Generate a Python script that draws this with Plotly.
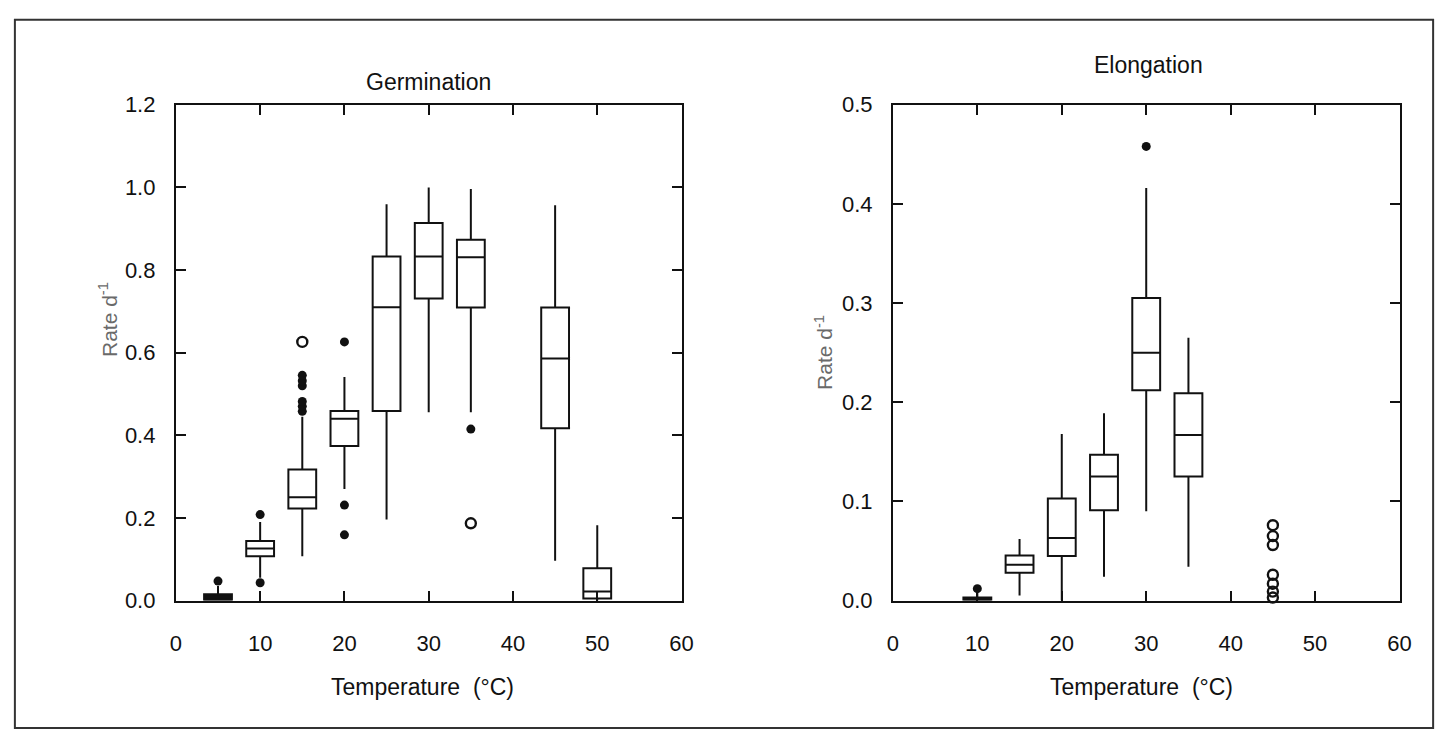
import plotly.graph_objects as go

W, H = 1455, 744

# ---- Germination (rate per day) box statistics by temperature (°C)
germ_temp = [5, 10, 15, 20, 25, 30, 35, 45, 50]
germ_q1 = [0.0, 0.107, 0.223, 0.374, 0.459, 0.731, 0.709, 0.417, 0.005]
germ_median = [0.0, 0.126, 0.250, 0.440, 0.710, 0.833, 0.831, 0.586, 0.022]
germ_q3 = [0.015, 0.144, 0.317, 0.459, 0.833, 0.914, 0.873, 0.709, 0.078]
germ_low = [0.0, 0.055, 0.107, 0.270, 0.196, 0.456, 0.456, 0.096, 0.0]
germ_high = [0.035, 0.190, 0.445, 0.541, 0.959, 1.0, 0.996, 0.957, 0.182]

# outliers: filled = extreme, open = far out
germ_out_x = [5, 10, 10, 15, 15, 15, 15, 15, 15, 20, 20, 20, 35]
germ_out_y = [0.047, 0.208, 0.043, 0.458, 0.470, 0.482, 0.520, 0.532, 0.545,
              0.626, 0.231, 0.159, 0.415]
germ_far_x = [15, 35]
germ_far_y = [0.626, 0.187]

# ---- Elongation (rate per day) box statistics by temperature (°C)
elong_temp = [10, 15, 20, 25, 30, 35]
elong_q1 = [0.0, 0.028, 0.045, 0.091, 0.212, 0.125]
elong_median = [0.0, 0.036, 0.063, 0.125, 0.250, 0.167]
elong_q3 = [0.003, 0.0455, 0.103, 0.147, 0.305, 0.209]
elong_low = [0.0, 0.005, 0.0, 0.024, 0.090, 0.034]
elong_high = [0.008, 0.062, 0.168, 0.189, 0.416, 0.265]

elong_out_x = [10, 30]
elong_out_y = [0.012, 0.458]
elong_far_x = [45, 45, 45, 45, 45, 45, 45]
elong_far_y = [0.076, 0.065, 0.056, 0.026, 0.017, 0.009, 0.003]

x_ticks = [0, 10, 20, 30, 40, 50, 60]
germ_ticks = [0.0, 0.2, 0.4, 0.6, 0.8, 1.0, 1.2]
elong_ticks = [0.0, 0.1, 0.2, 0.3, 0.4, 0.5]

FONT = "Liberation Sans, Arial, sans-serif"
INK = "#111111"
FLAT = 0.02  # boxes lying on the baseline below this are printed as solid bars


def px_x(p):
    return p / W


def px_y(p):
    return 1 - p / H


def box_trace(idx, x, q1, med, q3, lo, hi, xa, ya, fill):
    return go.Box(
        x=[x[i] for i in idx], q1=[q1[i] for i in idx], median=[med[i] for i in idx],
        q3=[q3[i] for i in idx], lowerfence=[lo[i] for i in idx],
        upperfence=[hi[i] for i in idx],
        width=3.3, whiskerwidth=0, boxpoints=False,
        line=dict(color=INK, width=2), fillcolor=fill,
        xaxis=xa, yaxis=ya, showlegend=False, hoverinfo="skip",
    )


def add_boxes(fig, x, q1, med, q3, lo, hi, xa, ya):
    flat = [i for i in range(len(x)) if q3[i] < FLAT]
    normal = [i for i in range(len(x)) if q3[i] >= FLAT]
    fig.add_trace(box_trace(normal, x, q1, med, q3, lo, hi, xa, ya, "white"))
    fig.add_trace(box_trace(flat, x, q1, med, q3, lo, hi, xa, ya, INK))


def dots(x, y, xa, ya, open_=False):
    if open_:
        marker = dict(symbol="circle-open", size=10, color=INK, line=dict(width=2.4, color=INK))
    else:
        marker = dict(symbol="circle", size=9, color=INK)
    return go.Scatter(x=x, y=y, mode="markers", marker=marker,
                      xaxis=xa, yaxis=ya, showlegend=False, hoverinfo="skip", cliponaxis=False)


fig = go.Figure()
add_boxes(fig, germ_temp, germ_q1, germ_median, germ_q3, germ_low, germ_high, "x", "y")
fig.add_trace(dots(germ_out_x, germ_out_y, "x", "y"))
fig.add_trace(dots(germ_far_x, germ_far_y, "x", "y", open_=True))
add_boxes(fig, elong_temp, elong_q1, elong_median, elong_q3, elong_low, elong_high, "x2", "y2")
fig.add_trace(dots(elong_out_x, elong_out_y, "x2", "y2"))
fig.add_trace(dots(elong_far_x, elong_far_y, "x2", "y2", open_=True))

axis_common = dict(
    showline=True, linecolor=INK, linewidth=2, mirror="ticks",
    ticks="inside", ticklen=10, tickwidth=2, tickcolor=INK,
    showgrid=False, zeroline=False,
    tickfont=dict(family=FONT, size=22, color=INK),
)

top, bottom = 96, 609
ydom = [px_y(bottom), px_y(top)]

fig.update_layout(
    width=W, height=H,
    margin=dict(l=0, r=0, t=0, b=0),
    paper_bgcolor="white", plot_bgcolor="white",
    boxmode="overlay",
    xaxis=dict(domain=[px_x(172), px_x(684)], range=[0, 60], tickvals=x_ticks,
               ticklabelstandoff=22, anchor="y", **axis_common),
    yaxis=dict(domain=ydom, range=[0, 1.2], tickvals=germ_ticks, tickformat=".1f",
               ticklabelstandoff=14, anchor="x", **axis_common),
    xaxis2=dict(domain=[px_x(898), px_x(1411)], range=[0, 60], tickvals=x_ticks,
                ticklabelstandoff=22, anchor="y2", **axis_common),
    yaxis2=dict(domain=ydom, range=[0, 0.5], tickvals=elong_ticks, tickformat=".1f",
                ticklabelstandoff=14, anchor="x2", **axis_common),
)

# outer frame
fig.add_shape(type="rect", xref="paper", yref="paper",
              x0=px_x(9), x1=px_x(1445), y0=px_y(741), y1=px_y(8),
              line=dict(color="#333333", width=2))

labels = [
    ("Germination", 428, 72, 23, INK, 0),
    ("Elongation", 1157, 55, 23, INK, 0),
    ("Temperature  (°C)", 422, 698, 23, INK, 0),
    ("Temperature  (°C)", 1150, 698, 23, INK, 0),
    ("Rate d<sup>-1</sup>", 104, 318, 21, "#6a6a6a", -90),
    ("Rate d<sup>-1</sup>", 828, 352, 21, "#6a6a6a", -90),
]
for text, x, y, size, color, angle in labels:
    fig.add_annotation(text=text, xref="paper", yref="paper", x=px_x(x), y=px_y(y),
                       xanchor="center", yanchor="middle", showarrow=False,
                       textangle=angle, font=dict(family=FONT, size=size, color=color))

fig.write_html("out.html")
